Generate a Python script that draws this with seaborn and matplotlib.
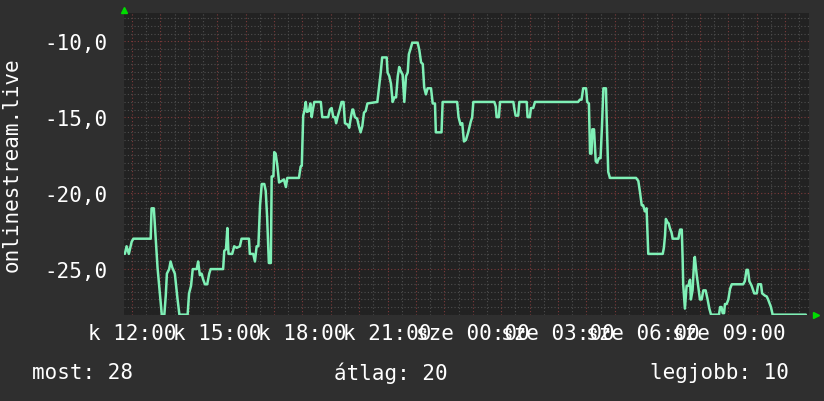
import numpy as np
import pandas as pd
import matplotlib
matplotlib.use("Agg")
import matplotlib.pyplot as plt
import seaborn as sns
from matplotlib.ticker import MultipleLocator, FixedLocator

# hours after 12:00 (first day) and rank (negated so the best is on top)
hours = [-0.25, -0.19, -0.11, -0.01, 0.05, 0.66, 0.69, 0.77, 0.83, 0.90, 0.99, 1.05, 1.14, 1.19, 1.23,
         1.31, 1.36, 1.42, 1.51, 1.60, 1.67, 1.96, 2.01, 2.08, 2.14, 2.28, 2.33, 2.39, 2.45, 2.51,
         2.57, 2.65, 2.72, 2.77, 3.21, 3.25, 3.31, 3.36, 3.40, 3.53, 3.60, 3.69, 3.80, 3.86, 4.12,
         4.15, 4.27, 4.33, 4.39, 4.45, 4.51, 4.57, 4.66, 4.71, 4.76, 4.82, 4.89, 4.92, 4.98, 5.01,
         5.06, 5.12, 5.18, 5.27, 5.35, 5.42, 5.47, 5.88, 5.94, 5.98, 6.03, 6.07, 6.12, 6.16, 6.23,
         6.28, 6.33, 6.37, 6.42, 6.65, 6.70, 6.91, 6.97, 7.03, 7.09, 7.15, 7.19, 7.24, 7.33, 7.38,
         7.45, 7.50, 7.60, 7.65, 7.71, 7.76, 7.79, 7.85, 7.93, 7.99, 8.05, 8.11, 8.17, 8.23, 8.29,
         8.64, 8.70, 8.76, 8.81, 8.97, 9.00, 9.06, 9.12, 9.18, 9.24, 9.30, 9.36, 9.41, 9.47, 9.53,
         9.59, 9.65, 9.71, 9.75, 9.81, 9.87, 10.06, 10.12, 10.18, 10.24, 10.29, 10.35, 10.41, 10.53, 10.59,
         10.67, 10.70, 10.90, 10.94, 11.45, 11.50, 11.57, 11.63, 11.69, 11.76, 11.84, 11.93, 11.98, 12.02, 12.76,
         12.81, 12.84, 12.92, 12.96, 13.43, 13.46, 13.51, 13.60, 13.64, 13.90, 13.93, 14.01, 14.05, 14.13, 14.19,
         15.71, 15.77, 15.83, 15.89, 15.99, 16.03, 16.09, 16.13, 16.18, 16.21, 16.27, 16.33, 16.38, 16.44, 16.50,
         16.55, 16.60, 16.69, 16.71, 16.77, 16.83, 17.75, 17.83, 17.89, 17.95, 18.00, 18.06, 18.12, 18.18, 18.69,
         18.73, 18.77, 18.80, 18.85, 18.90, 18.94, 19.00, 19.04, 19.24, 19.30, 19.36, 19.39, 19.41, 19.47, 19.53,
         19.59, 19.65, 19.68, 19.74, 19.80, 19.82, 19.88, 19.96, 20.00, 20.06, 20.12, 20.20, 20.27, 20.33, 20.39,
         20.67, 20.71, 20.76, 20.80, 20.85, 20.88, 20.94, 21.00, 21.06, 21.12, 21.52, 21.58, 21.64, 21.69, 21.74,
         21.82, 21.91, 22.00, 22.05, 22.15, 22.19, 22.29, 22.35, 22.40, 22.50, 22.56, 23.73]

rank = [-24, -23.5, -24, -23.2, -23, -23, -21, -21, -22.8, -24.9, -26.8, -28, -28, -26.75, -25.3,
        -25, -24.5, -24.9, -25.3, -26.9, -28, -28, -26.6, -26.1, -25, -25, -24.5, -25.4, -25.3, -25.7,
        -26, -26, -25.3, -25, -25, -23.8, -23.7, -22.3, -24, -24, -23.5, -23.6, -23.5, -23, -23,
        -24, -24, -24.5, -23.5, -23.5, -20.8, -19.4, -19.4, -19.85, -21.6, -24.6, -24.6, -18.9, -18.9, -17.3,
        -17.4, -18.2, -19.3, -19.2, -19.1, -19.6, -19, -19, -18.25, -18.2, -14.9, -14.6, -14, -14.65, -14.6,
        -14.1, -15, -14.5, -14, -14, -15, -15, -14.5, -14.4, -15, -15, -15.4, -15, -14.4, -14,
        -14, -15.4, -15.5, -15.7, -15, -14.5, -14.5, -15, -15.1, -15.6, -16, -15.6, -14.7, -14.6, -14.1,
        -14, -13.05, -12.06, -11.07, -11.07, -12.06, -12.3, -12.8, -14, -13.7, -13.7, -12.3, -11.7, -12, -12.2,
        -14, -12.3, -12.06, -10.86, -10.5, -10.1, -10.1, -10.6, -11.4, -11.5, -13.05, -13.5, -13.1, -13.1, -14.1,
        -14.1, -16, -16, -14, -14, -15, -15.5, -15.4, -16.6, -16.5, -16, -15.3, -15, -14, -14,
        -14.3, -15, -15, -14, -14, -14.4, -14.9, -14.9, -14, -14, -15, -15, -14.4, -14.4, -14,
        -14, -13.85, -13.85, -13.1, -13.1, -14, -14.1, -17.4, -17.4, -15.8, -15.8, -17.9, -18, -17.7, -17.7,
        -15.6, -13.1, -13.1, -14.7, -18.6, -19, -19, -19.2, -19.95, -20.8, -20.8, -21.2, -21, -24, -24,
        -23.6, -22.8, -21.7, -21.9, -22, -22.3, -22.6, -23, -23, -22.4, -22.4, -24.3, -26, -27.6, -26.1,
        -26.1, -25.7, -27, -26.4, -24.3, -24.2, -25.3, -26.4, -27, -27, -26.4, -26.4, -27, -27.6, -28,
        -28, -27.5, -27.5, -27.9, -27.9, -27.3, -27.3, -27, -26.3, -26, -26, -25.8, -25.05, -25.05, -25.8,
        -26.1, -26.6, -26.6, -26, -26, -26.6, -26.75, -26.8, -27, -27.5, -28, -28]

tick_hours = [0, 3, 6, 9, 12, 15, 18, 21]
tick_labels = ["k 12:00", "k 15:00", "k 18:00", "k 21:00",
               "sze 00:00", "sze 03:00", "sze 06:00", "sze 09:00"]
y_ticks = [-25, -20, -15, -10]
y_tick_labels = ["-25,0", "-20,0", "-15,0", "-10,0"]

df = pd.DataFrame({"hour": hours, "rank": rank})

sns.set_style("dark")
plt.rcParams["font.family"] = ["DejaVu Sans Mono"]

fig = plt.figure(figsize=(8.24, 4.02), dpi=100, facecolor="#2f2f2f")
ax = fig.add_axes([0.1505, 0.214, 0.8313, 0.751])
ax.set_facecolor("#222222")

sns.lineplot(data=df, x="hour", y="rank", ax=ax, color="#7ff0b6", linewidth=1.8,
             estimator=None, errorbar=None, zorder=5)

ax.set_xlim(-0.28, 23.84)
ax.set_ylim(-28.02, -8.15)

ax.xaxis.set_minor_locator(MultipleLocator(0.5))
ax.yaxis.set_minor_locator(MultipleLocator(0.5))

# hourly grid, labels only every 3 hours
ax.set_xticks(range(0, 24))
ax.set_xticklabels(["" if h not in tick_hours else tick_labels[tick_hours.index(h)] for h in range(0, 24)])
ax.set_yticks([-25, -20, -15, -10])
ax.set_yticklabels(y_tick_labels)

ax.grid(which="minor", color="#4e4e4e", linestyle=(0, (1, 2)), linewidth=0.8)
ax.grid(which="major", color="#7d3a3a", linestyle=(0, (1, 2)), linewidth=0.8)
ax.set_axisbelow(True)

ax.tick_params(axis="both", which="both", length=0, colors="white", labelsize=15)
ax.tick_params(axis="x", pad=6)
ax.tick_params(axis="y", pad=12)

for s in ax.spines.values():
    s.set_visible(False)

ax.set_xlabel("")
ax.set_ylabel("onlinestream.live", color="white", fontsize=15)
ax.yaxis.set_label_coords(-0.149, 0.5)

# rrd style axis arrows
ax.plot([0], [1.01], marker="^", color="#00dd00", markersize=5, transform=ax.transAxes, clip_on=False)
ax.plot([1.01], [0], marker=">", color="#00dd00", markersize=5, transform=ax.transAxes, clip_on=False)

fig.text(0.039, 0.072, "most: 28", color="white", fontsize=15, va="center")
fig.text(0.405, 0.072, "átlag: 20", color="white", fontsize=15, va="center")
fig.text(0.789, 0.072, "legjobb: 10", color="white", fontsize=15, va="center")

plt.savefig("out.png", dpi=100, facecolor=fig.get_facecolor())
